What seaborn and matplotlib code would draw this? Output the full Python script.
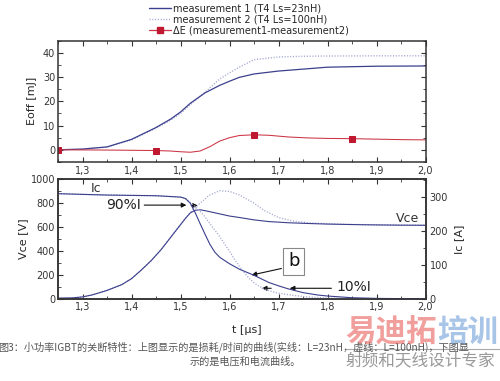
import numpy as np
import pandas as pd
import matplotlib
matplotlib.use("Agg")
import matplotlib.pyplot as plt
import seaborn as sns
from matplotlib.ticker import MultipleLocator, FuncFormatter
from matplotlib.lines import Line2D

# ---------------- data ----------------
# top panel: switching-off energy [mJ]
t_e = [1.25, 1.30, 1.35, 1.40, 1.45, 1.48, 1.50, 1.52, 1.55, 1.58, 1.60, 1.62,
       1.65, 1.70, 1.75, 1.80, 1.90, 2.00]
eoff_m1 = [0.0, 0.3, 1.2, 4.3, 9.2, 12.7, 15.6, 19.2, 23.5, 26.6, 28.3, 29.9,
           31.3, 32.5, 33.3, 34.1, 34.5, 34.6]
eoff_m2 = [0.0, 0.3, 1.1, 4.1, 8.9, 12.2, 15.0, 18.6, 23.8, 29.2, 31.8, 34.1,
           37.2, 38.3, 38.6, 38.7, 38.8, 38.8]

t_de = [1.25, 1.30, 1.35, 1.40, 1.45, 1.48, 1.50, 1.52, 1.54, 1.56, 1.58, 1.60,
        1.62, 1.65, 1.68, 1.72, 1.76, 1.80, 1.85, 1.90, 1.95, 2.00]
delta_e = [0.0, -0.05, -0.1, -0.2, -0.3, -0.5, -0.8, -1.0, -0.5, 1.3, 3.6, 5.0,
           5.9, 6.2, 6.0, 5.3, 4.9, 4.7, 4.6, 4.4, 4.2, 4.1]
de_marker_t = [1.25, 1.45, 1.65, 1.85]

# bottom panel: Vce [V]
t_v1 = [1.25, 1.28, 1.30, 1.32, 1.35, 1.38, 1.40, 1.42, 1.44, 1.46, 1.48, 1.50,
        1.51, 1.52, 1.53, 1.54, 1.55, 1.58, 1.60, 1.62, 1.65, 1.68, 1.72, 1.76,
        1.80, 1.85, 1.90, 1.95, 2.00]
vce_m1 = [8, 10, 18, 35, 72, 120, 170, 242, 320, 410, 515, 620,
          672, 718, 740, 744, 737, 710, 692, 680, 660, 646, 636, 630,
          625, 621, 618, 616, 615]
t_v2 = [1.25, 1.28, 1.30, 1.32, 1.35, 1.38, 1.40, 1.42, 1.44, 1.46, 1.48, 1.50,
        1.51, 1.52, 1.54, 1.56, 1.58, 1.60, 1.62, 1.65, 1.67, 1.70, 1.73, 1.76,
        1.80, 1.85, 1.90, 1.95, 2.00]
vce_m2 = [8, 10, 18, 35, 72, 120, 170, 242, 320, 410, 515, 620,
          672, 722, 800, 868, 903, 897, 868, 800, 740, 680, 650, 636,
          628, 622, 618, 616, 615]

# bottom panel: Ic [A]
t_i1 = [1.25, 1.30, 1.35, 1.40, 1.45, 1.50, 1.51, 1.52, 1.53, 1.54, 1.55, 1.56,
        1.57, 1.58, 1.60, 1.62, 1.65, 1.68, 1.70, 1.72, 1.75, 1.78, 1.80, 1.85,
        1.90, 1.95, 2.00]
ic_m1 = [310, 308, 306, 305, 304, 300, 296, 282, 254, 222, 191, 161,
         138, 123, 104, 88, 70, 49, 39, 30, 19, 12, 9, 4,
         2, 1.4, 1]
t_i2 = [1.25, 1.30, 1.35, 1.40, 1.45, 1.50, 1.51, 1.52, 1.53, 1.54, 1.55, 1.56,
        1.57, 1.58, 1.59, 1.60, 1.61, 1.62, 1.63, 1.64, 1.65, 1.66, 1.67, 1.68,
        1.70, 1.73, 1.76, 1.80, 1.90, 2.00]
ic_m2 = [310, 308, 306, 305, 304, 300, 296, 284, 272, 258, 242, 222,
         203, 184, 162, 141, 117, 97, 78, 61, 48, 38, 31, 25,
         17, 11, 6, 3, 1, 0.7]

x_ticks = [1.3, 1.4, 1.5, 1.6, 1.7, 1.8, 1.9, 2.0]
legend_labels = ["measurement 1 (T4 Ls=23nH)",
                 "measurement 2 (T4 Ls=100nH)",
                 "ΔE (measurement1-measurement2)"]
caption_1 = "图3：小功率IGBT的关断特性：上图显示的是损耗/时间的曲线(实线：L=23nH，虚线：L=100nH)，下图显"
caption_2 = "示的是电压和电流曲线。"

# ---------------- style ----------------
sns.set_style("ticks")
plt.rcParams['font.family'] = ['DejaVu Sans', 'Noto Sans CJK SC']
plt.rcParams.update({
    'xtick.direction': 'in', 'ytick.direction': 'in',
    'xtick.major.size': 3.5, 'ytick.major.size': 3.5,
    'xtick.minor.size': 2.5, 'ytick.minor.size': 2.5,
    'xtick.labelsize': 7, 'ytick.labelsize': 7,
    'axes.edgecolor': '#333333', 'axes.linewidth': 1.1,
    'xtick.color': '#333333', 'ytick.color': '#333333',
})

C1 = '#3b3f8c'
C2 = '#a4a8d2'
CR = '#cc3344'
DOT = (0, (0.8, 1.2))

fig = plt.figure(figsize=(5, 3.81), dpi=100)
ax_t = fig.add_axes([0.116, 0.575, 0.735, 0.318])
ax_b = fig.add_axes([0.116, 0.215, 0.735, 0.315])
ax_i = ax_b.twinx()

comma = FuncFormatter(lambda v, p: f"{v:.1f}".replace('.', ','))

# ---------------- top panel ----------------
sns.lineplot(x=t_e, y=eoff_m2, ax=ax_t, color=C2, linestyle=DOT, linewidth=1.0)
sns.lineplot(x=t_e, y=eoff_m1, ax=ax_t, color=C1, linewidth=0.9)
mk_idx = [t_de.index(t) for t in de_marker_t]
sns.lineplot(x=t_de, y=delta_e, ax=ax_t, color=CR, linewidth=0.75,
             marker='s', markersize=4.5, markevery=mk_idx,
             markeredgecolor='#c01830', markerfacecolor='#c01830')
ax_t.set_xlim(1.25, 2.0)
ax_t.set_ylim(-5, 45)
ax_t.set_xticks(x_ticks)
ax_t.xaxis.set_minor_locator(MultipleLocator(0.05))
ax_t.set_yticks([0, 10, 20, 30, 40])
ax_t.yaxis.set_minor_locator(MultipleLocator(5))
ax_t.tick_params(axis='x', which='both', top=True, bottom=True, labelbottom=False)
ax_t.tick_params(axis='y', which='both', left=True, right=True, pad=2)
ax_t.set_ylabel("Eoff [mJ]", fontsize=8, labelpad=4)
ax_t.set_xlabel("")

# ---------------- bottom panel ----------------
sns.lineplot(x=t_v2, y=vce_m2, ax=ax_b, color=C2, linestyle=DOT, linewidth=1.0)
sns.lineplot(x=t_v1, y=vce_m1, ax=ax_b, color=C1, linewidth=0.8)
sns.lineplot(x=t_i2, y=ic_m2, ax=ax_i, color=C2, linestyle=DOT, linewidth=1.0)
sns.lineplot(x=t_i1, y=ic_m1, ax=ax_i, color=C1, linewidth=0.8)

ax_b.set_xlim(1.25, 2.0)
ax_b.set_ylim(0, 1000)
ax_b.set_xticks(x_ticks)
ax_b.xaxis.set_major_formatter(comma)
ax_b.xaxis.set_minor_locator(MultipleLocator(0.05))
ax_b.set_yticks([0, 200, 400, 600, 800, 1000])
ax_b.yaxis.set_minor_locator(MultipleLocator(100))
ax_b.tick_params(axis='x', which='both', top=True, bottom=True,
                 labeltop=True, labelbottom=True, pad=2)
ax_b.tick_params(axis='y', which='both', left=True, right=False, pad=2)
ax_b.set_ylabel("Vce [V]", fontsize=8, labelpad=2)
ax_b.set_xlabel("")

ax_i.set_ylim(0, 353)
ax_i.set_yticks([0, 100, 200, 300])
ax_i.yaxis.set_minor_locator(MultipleLocator(50))
ax_i.tick_params(axis='y', which='both', right=True, pad=3)
ax_i.set_ylabel("Ic [A]", fontsize=8, labelpad=4)
ax_i.set_xlabel("")
for a in (ax_t, ax_b, ax_i):
    for s in a.spines.values():
        s.set_color('#333333')
        s.set_linewidth(1.1)

# annotations
arrow_kw = dict(arrowstyle='-|>', color='#111111', lw=0.8,
                mutation_scale=7, shrinkA=0, shrinkB=0)
ax_b.text(1.328, 922, "Ic", fontsize=9, ha='center', va='center', color='#333333')
ax_b.text(1.963, 672, "Vce", fontsize=9, ha='center', va='center', color='#333333')
ax_b.text(1.383, 783, "90%I", fontsize=10, ha='center', va='center', color='#222222')
ax_b.annotate("", xy=(1.512, 783), xytext=(1.426, 783), arrowprops=arrow_kw)
ax_b.annotate("", xy=(1.535, 780), xytext=(1.522, 780), arrowprops=arrow_kw)
ax_b.text(1.854, 103, "10%I", fontsize=10, ha='center', va='center', color='#222222')
ax_b.annotate("", xy=(1.723, 90), xytext=(1.808, 90), arrowprops=arrow_kw)
ax_b.annotate("", xy=(1.666, 90), xytext=(1.685, 90), arrowprops=arrow_kw)
ax_b.text(1.731, 314, "b", fontsize=13, ha='center', va='center', color='#111111',
          bbox=dict(boxstyle='square,pad=0.25', fc='white', ec='#888888', lw=0.8))
ax_b.annotate("", xy=(1.645, 200), xytext=(1.706, 255), arrowprops=arrow_kw)

# legend
handles = [Line2D([], [], color=C1, lw=1.0),
           Line2D([], [], color=C2, lw=1.0, linestyle=DOT),
           Line2D([], [], color=CR, lw=0.9, marker='s', markersize=4.5,
                  markerfacecolor='#c01830', markeredgecolor='#c01830')]
fig.legend(handles, legend_labels, loc='upper left', bbox_to_anchor=(0.298, 0.99),
           frameon=False, fontsize=7, handlelength=2.3, handletextpad=0.2,
           labelspacing=0.1, borderpad=0, borderaxespad=0, numpoints=1)

fig.text(0.494, 0.134, "t [µs]", ha='center', va='center', fontsize=8)

cjk = ['Noto Sans CJK SC', 'DejaVu Sans']
fig.text(-0.004, 0.089, caption_1, ha='left', va='center', fontsize=7.3,
         color='#555555', family=cjk)
fig.text(0.49, 0.052, caption_2, ha='center', va='center', fontsize=7.3,
         color='#555555', family=cjk)

# watermark
fig.text(0.69, 0.128, "易迪拓", ha='left', va='center', fontsize=22,
         color='#e8605a', alpha=0.6, family=cjk, fontweight='bold')
fig.text(0.874, 0.128, "培训", ha='left', va='center', fontsize=22,
         color='#6f9fd8', alpha=0.6, family=cjk, fontweight='bold')
fig.add_artist(Line2D([0.69, 1.0], [0.085, 0.085], transform=fig.transFigure,
                      color='#aaaaaa', lw=0.8))
fig.text(0.692, 0.052, "射频和天线设计专家", ha='left', va='center', fontsize=12,
         color='#999999', family=cjk)

fig.savefig("out.png", dpi=100)
